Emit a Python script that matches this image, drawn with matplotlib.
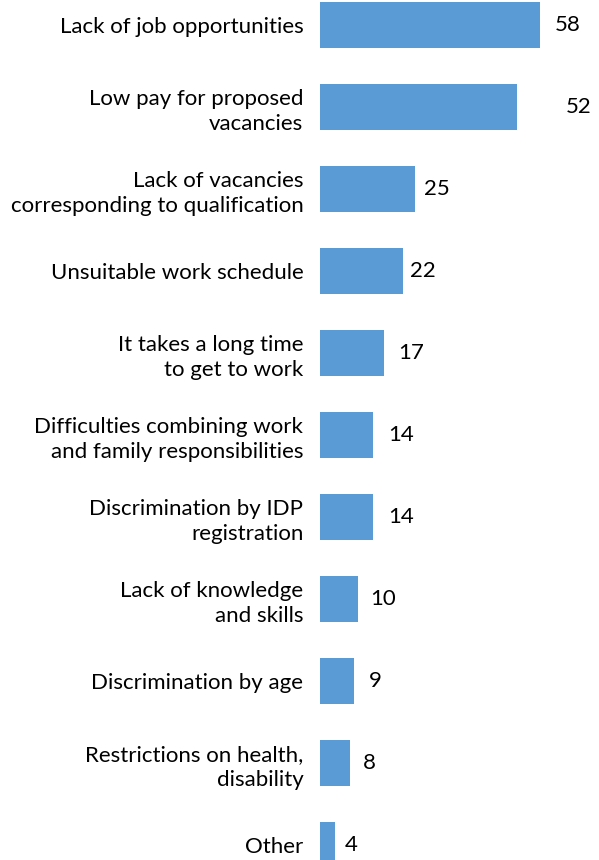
import matplotlib
matplotlib.use("Agg")
import matplotlib.pyplot as plt

plt.rcParams['font.family'] = ['Lato', 'DejaVu Sans']

categories = [
    "Lack of job opportunities",
    "Low pay for proposed\nvacancies",
    "Lack of vacancies\ncorresponding to qualification",
    "Unsuitable work schedule",
    "It takes a long time\nto get to work",
    "Difficulties combining work\nand family responsibilities",
    "Discrimination by IDP\nregistration",
    "Lack of knowledge\nand skills",
    "Discrimination by age",
    "Restrictions on health,\ndisability",
    "Other",
]
values = [58, 52, 25, 22, 17, 14, 14, 10, 9, 8, 4]

# horizontal nudge (points) for each value label
label_dx = [11, 35, 7, 5, 10, 11, 11, 9, 11, 9, 7]

W, H = 599, 860
fig = plt.figure(figsize=(W / 100, H / 100), dpi=100)
ax = fig.add_axes([320 / W, 0, 265 / W, 1])

pos = list(range(len(categories)))
ax.barh(pos, values, height=0.56, color="#5B9BD5")

ax.set_xlim(0, 70)
ax.set_ylim(10.183, -0.305)
ax.set_yticks(pos)
ax.set_yticklabels(categories, fontsize=16, color="black", linespacing=1.3)
ax.tick_params(axis="y", length=0, pad=12)
ax.set_xticks([])
for s in ax.spines.values():
    s.set_visible(False)

for p, v, dx in zip(pos, values, label_dx):
    ax.annotate(str(v), (v, p), xytext=(dx, 0), textcoords="offset points",
                ha="left", va="center", fontsize=16)

fig.savefig("out.png", dpi=100)
